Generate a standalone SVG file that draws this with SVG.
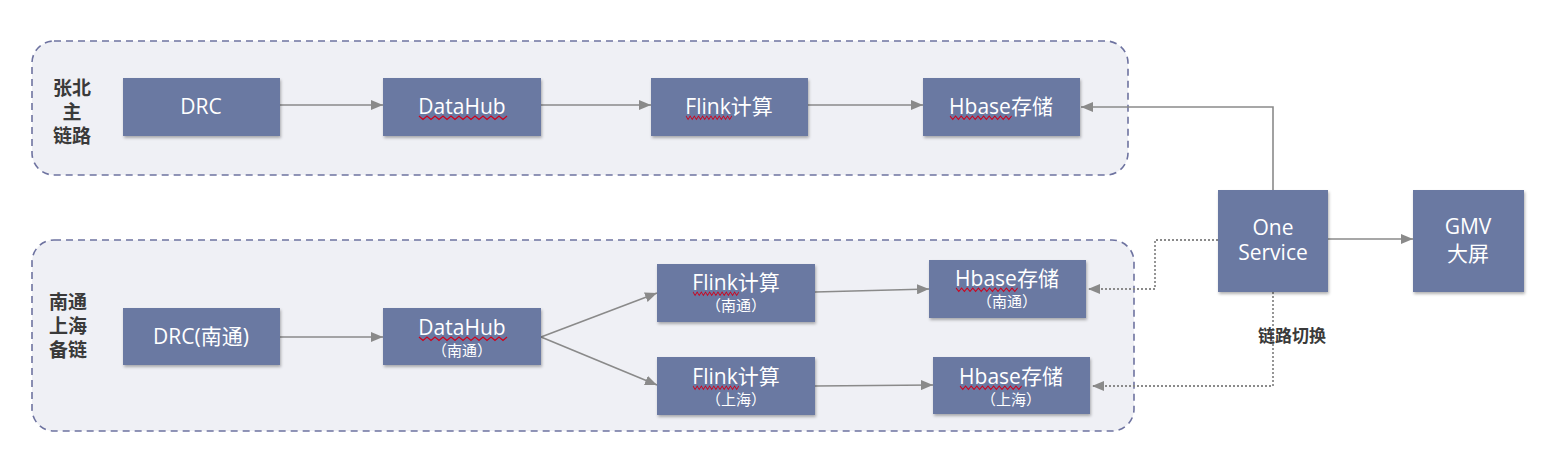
<svg xmlns="http://www.w3.org/2000/svg" width="1556" height="466" viewBox="0 0 1556 466">
<defs>
<style>
.group{fill:#eff0f5;stroke:#6e73a0;stroke-width:1.6;stroke-dasharray:7 5}
.box{fill:#6a79a2;filter:url(#sh)}
.t{fill:#fff;font-family:"Open Sans","Noto Sans CJK SC",sans-serif;font-size:21px;text-anchor:middle}
.s{fill:#fff;font-family:"Open Sans","Noto Sans CJK SC",sans-serif;font-size:15px;text-anchor:middle}
.lbl{fill:#3a3a3a;font-family:"Open Sans","Noto Sans CJK SC",sans-serif;font-size:19px;font-weight:bold;text-anchor:middle}
.edge{fill:none;stroke:#8a8a8a;stroke-width:1.6}
.dot{fill:none;stroke:#8a8a8a;stroke-width:1.8;stroke-dasharray:2 2}
.wave{fill:none;stroke:#d0021b;stroke-width:1.2}
</style>
<filter id="sh" x="-10%" y="-10%" width="120%" height="130%">
<feDropShadow dx="1" dy="2" stdDeviation="1.5" flood-color="#000" flood-opacity="0.3"/>
</filter>
<marker id="ah" viewBox="0 0 12 10" refX="12" refY="5" markerWidth="12" markerHeight="10" markerUnits="userSpaceOnUse" orient="auto">
<path d="M0,0 L12,5 L0,10 Z" fill="#8a8a8a"/>
</marker>
<path id="wv" d="M0,0 l4,3.5 l4,-3.5 l4,3.5 l4,-3.5 l4,3.5 l4,-3.5 l4,3.5 l4,-3.5 l4,3.5 l4,-3.5 l4,3.5 l4,-3.5 l4,3.5 l4,-3.5 l4,3.5 l4,-3.5 l4,3.5 l4,-3.5 l4,3.5 l4,-3.5 l4,3.5 l4,-3.5"/>
</defs>
<rect width="1556" height="466" fill="#fff"/>

<g id="group-main">
<rect class="group" x="32" y="41" width="1096" height="134" rx="22"/>
<text class="lbl"><tspan x="72" y="95">张北</tspan><tspan x="72" y="119">主</tspan><tspan x="72" y="143">链路</tspan></text>
</g>
<g id="group-backup">
<rect class="group" x="32" y="240" width="1102" height="191" rx="22"/>
<text class="lbl"><tspan x="68" y="309">南通</tspan><tspan x="68" y="333">上海</tspan><tspan x="68" y="357">备链</tspan></text>
</g>

<g id="connectors">
<path class="edge" d="M280,105 L383,105" marker-end="url(#ah)"/>
<path class="edge" d="M541,105 L651,105" marker-end="url(#ah)"/>
<path class="edge" d="M808,105 L923,105" marker-end="url(#ah)"/>
<path class="edge" d="M1273,190 L1273,107 L1081,107" marker-end="url(#ah)"/>
<path class="edge" d="M1328,239 L1413,239" marker-end="url(#ah)"/>
<path class="edge" d="M280,337 L383,337" marker-end="url(#ah)"/>
<path class="edge" d="M541,337 L657,293" marker-end="url(#ah)"/>
<path class="edge" d="M541,337 L657,385" marker-end="url(#ah)"/>
<path class="edge" d="M815,292 L929,289" marker-end="url(#ah)"/>
<path class="edge" d="M815,386 L933,385" marker-end="url(#ah)"/>
<path class="dot" d="M1218,240 L1155,240 L1155,289 L1088,289" marker-end="url(#ah)"/>
<path class="dot" d="M1273,292 L1273,386 L1092,386" marker-end="url(#ah)"/>
<text class="lbl" x="1292" y="342" style="font-size:17px">链路切换</text>
</g>

<g id="n-drc"><rect class="box" x="123" y="78" width="157" height="58"/><text class="t" x="201" y="114">DRC</text></g>
<g id="n-datahub"><rect class="box" x="383" y="78" width="158" height="58"/><text class="t" x="462" y="114">DataHub</text>
<use href="#wv" class="wave" transform="translate(419,116)"/></g>
<g id="n-flink"><rect class="box" x="651" y="78" width="157" height="58"/><text class="t" x="729" y="114">Flink计算</text><use href="#wv" class="wave" transform="translate(686,116) scale(0.52,1)"/></g>
<g id="n-hbase"><rect class="box" x="923" y="78" width="157" height="58"/><text class="t" x="1001" y="114">Hbase存储</text><use href="#wv" class="wave" transform="translate(950,116) scale(0.7,1)"/></g>

<g id="n-oneservice"><rect class="box" x="1218" y="190" width="110" height="102"/><text class="t"><tspan x="1273" y="235">One</tspan><tspan x="1273" y="260">Service</tspan></text></g>
<g id="n-gmv"><rect class="box" x="1413" y="190" width="111" height="102"/><text class="t"><tspan x="1468" y="234">GMV</tspan><tspan x="1468" y="261">大屏</tspan></text></g>

<g id="n-drc-nt"><rect class="box" x="123" y="308" width="157" height="57"/><text class="t" x="201" y="344">DRC(南通)</text></g>
<g id="n-datahub-nt"><rect class="box" x="383" y="308" width="158" height="57"/><text class="t" x="462" y="335">DataHub</text><text class="s" x="462" y="356">（南通）</text><use href="#wv" class="wave" transform="translate(419,337)"/></g>
<g id="n-flink-nt"><rect class="box" x="657" y="264" width="158" height="58"/><text class="t" x="736" y="290">Flink计算</text><text class="s" x="736" y="311">（南通）</text><use href="#wv" class="wave" transform="translate(693,292) scale(0.52,1)"/></g>
<g id="n-hbase-nt"><rect class="box" x="929" y="260" width="157" height="58"/><text class="t" x="1007" y="286">Hbase存储</text><text class="s" x="1007" y="307">（南通）</text><use href="#wv" class="wave" transform="translate(956,288) scale(0.7,1)"/></g>
<g id="n-flink-sh"><rect class="box" x="657" y="357" width="158" height="58"/><text class="t" x="736" y="384">Flink计算</text><text class="s" x="736" y="405">（上海）</text><use href="#wv" class="wave" transform="translate(693,386) scale(0.52,1)"/></g>
<g id="n-hbase-sh"><rect class="box" x="933" y="357" width="157" height="57"/><text class="t" x="1011" y="384">Hbase存储</text><text class="s" x="1011" y="405">（上海）</text><use href="#wv" class="wave" transform="translate(960,386) scale(0.7,1)"/></g>
</svg>
